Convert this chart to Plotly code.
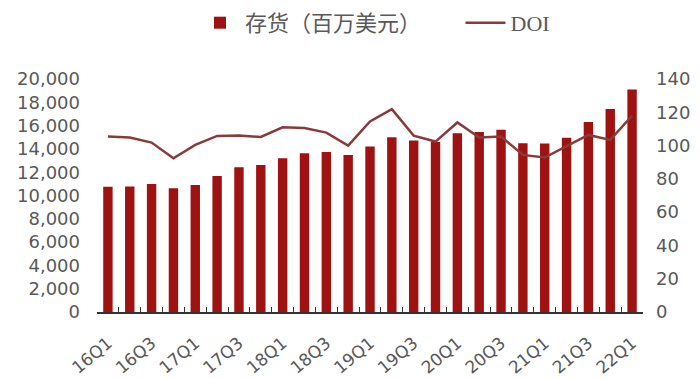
import plotly.graph_objects as go

quarters = ["16Q1", "16Q2", "16Q3", "16Q4", "17Q1", "17Q2", "17Q3", "17Q4",
            "18Q1", "18Q2", "18Q3", "18Q4", "19Q1", "19Q2", "19Q3", "19Q4",
            "20Q1", "20Q2", "20Q3", "20Q4", "21Q1", "21Q2", "21Q3", "21Q4", "22Q1"]
inventory = [10750, 10780, 10990, 10620, 10900, 11680, 12420, 12620, 13200, 13620,
             13740, 13470, 14200, 15010, 14720, 14600, 15350, 15450, 15640, 14490,
             14460, 14960, 16300, 17430, 19090]
doi = [105.4, 104.8, 101.8, 92.4, 100.4, 105.8, 106.0, 105.2, 111.0, 110.5,
       107.8, 100.0, 114.5, 121.9, 106.0, 102.4, 113.9, 104.8, 105.4, 94.4,
       92.8, 99.4, 106.4, 103.4, 117.9]
tick_text = [q if i % 2 == 0 else "" for i, q in enumerate(quarters)]

BAR = "#9e1212"
LINE = "#8b3a3a"
GREY = "#595959"
NUMFONT = "DejaVu Sans, Liberation Sans, Arial"

fig = go.Figure()
fig.add_trace(go.Bar(x=quarters, y=inventory, name="存货（百万美元）" + "\u00a0" * 7,
                     marker=dict(color=BAR, line=dict(width=0)), yaxis="y"))
fig.add_trace(go.Scatter(x=quarters, y=doi,
                         name="<span style='font-family:Liberation Serif'>DOI</span>",
                         mode="lines", line=dict(color=LINE, width=2.5), yaxis="y2"))

fig.update_layout(
    width=700, height=379,
    margin=dict(l=97, r=57, t=79, b=67),
    paper_bgcolor="white", plot_bgcolor="white",
    bargap=0.57,
    font=dict(family=NUMFONT, color=GREY, size=18),
    showlegend=True,
    legend=dict(orientation="h", x=195 / 700, xanchor="left", xref="container",
                y=0.995, yanchor="top", yref="container",
                font=dict(family="Noto Sans CJK SC", size=22, color=GREY),
                itemwidth=40, tracegroupgap=0, bgcolor="rgba(0,0,0,0)"),
    xaxis=dict(type="category", tickmode="array", tickvals=quarters, ticktext=tick_text,
               tickangle=-40, tickson="boundaries", ticks="inside", ticklen=5,
               tickcolor="#333333", tickwidth=1.2, showline=True, linecolor="#333333",
               linewidth=1.5, showgrid=False, zeroline=False, ticklabelstandoff=13,
               automargin=False,
               tickfont=dict(size=17, color=GREY, family=NUMFONT)),
    yaxis=dict(range=[0, 20000], dtick=2000, tickformat=",", showgrid=False,
               zeroline=False, showline=False, ticks="", ticklabelstandoff=16,
               automargin=False,
               tickfont=dict(size=18, color=GREY, family=NUMFONT)),
    yaxis2=dict(range=[0, 140], dtick=20, overlaying="y", side="right",
                showgrid=False, zeroline=False, showline=False, ticks="",
                ticklabelstandoff=12, automargin=False,
                tickfont=dict(size=18, color=GREY, family=NUMFONT)),
)

fig.write_html("out.html")
